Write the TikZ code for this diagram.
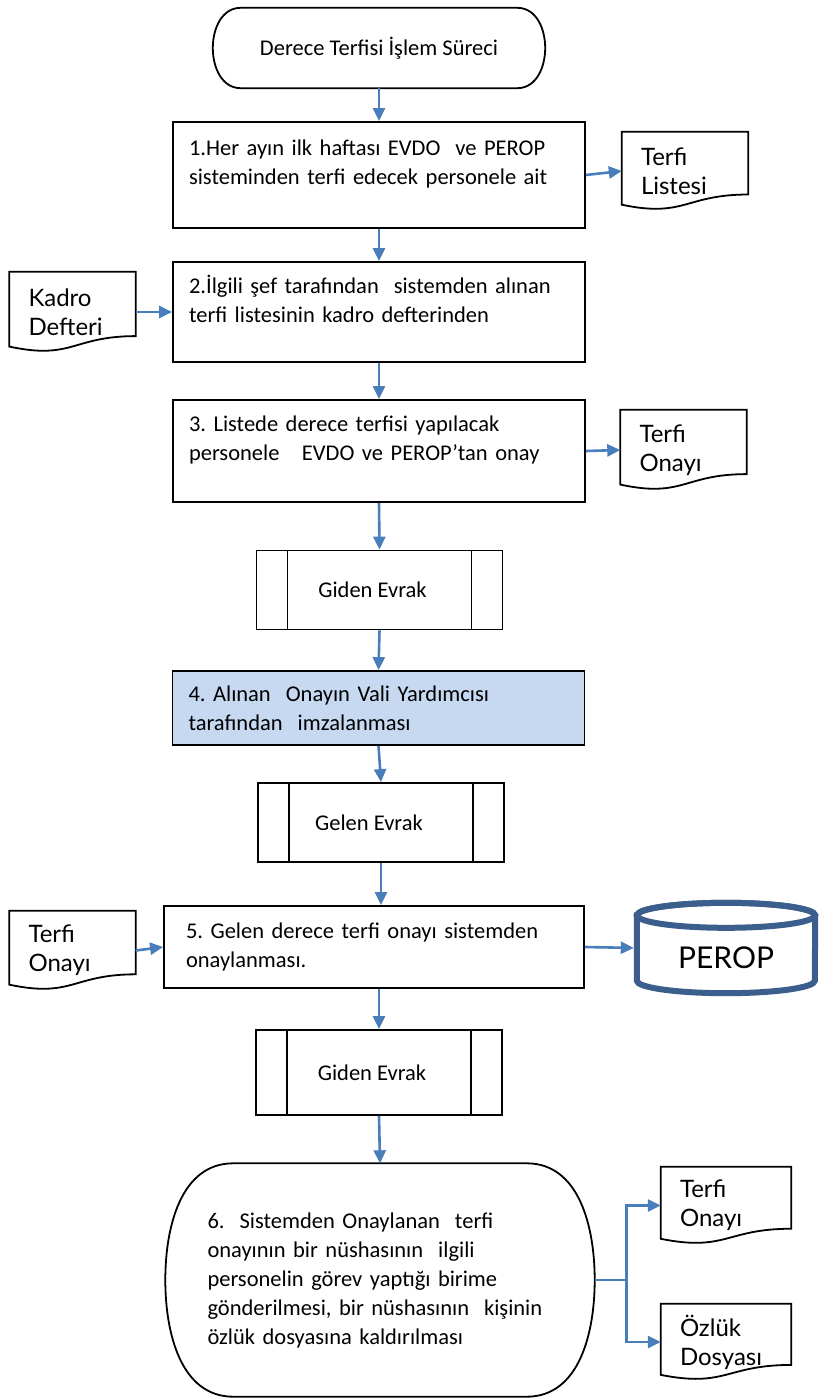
\documentclass[tikz,border=0pt]{standalone}
\usepackage{fontspec}
\setmainfont{Carlito}
\newfontfamily\docfont{Lato}
\usetikzlibrary{arrows.meta,calc}
\definecolor{flowblue}{HTML}{4A7EBB}
\definecolor{stepfill}{HTML}{C6D9F1}
\definecolor{dbblue}{HTML}{3B5E8C}

\begin{document}
\begin{tikzpicture}[x=1pt,y=1pt,
	txt/.style={font=\fontsize{22.5}{29}\selectfont\frenchspacing},
	box/.style={txt,draw,line width=1.8pt,text width=380pt,inner xsep=16pt,inner ysep=0pt,align=left},
	term/.style={txt,inner sep=0pt},
	sub/.style={txt,draw,line width=1.8pt,minimum width=246pt,minimum height=79pt,
		path picture={
			\draw[line width=1.8pt] ([xshift=31pt]path picture bounding box.north west) -- ([xshift=31pt]path picture bounding box.south west);
			\draw[line width=1.8pt] ([xshift=-31pt]path picture bounding box.north east) -- ([xshift=-31pt]path picture bounding box.south east);}},
	doc/.style={font=\docfont\fontsize{24}{29}\selectfont,align=left,text width=88pt,inner xsep=19pt,minimum height=78pt},
	flow/.style={draw=flowblue,line width=2.6pt,-{Triangle[length=13pt,width=12pt]}},
	link/.style={draw=flowblue,line width=2.6pt}
]
	\fill[white] (0,0) rectangle (819,-1399);

	% main column
	\node[term,minimum width=332pt,minimum height=80pt] (start) at (379,-48) {Derece Terfisi İşlem Süreci};
	\node[box,minimum height=106pt,text depth=55pt] (b1) at (379,-175) {1.Her ayın ilk haftası EVDO\ \ ve PEROP\\sisteminden terfi edecek personele ait};
	\node[box,minimum height=100pt,text depth=55pt] (b2) at (379,-312) {2.İlgili şef tarafından\ \ sistemden alınan\\terfi listesinin kadro defterinden};
	\node[box,minimum height=102pt,text depth=55pt] (b3) at (379,-451) {3. Listede derece terfisi yapılacak\\personele\ \ \ EVDO ve PEROP’tan onay};
	\node[sub] (gid1) at (379.5,-590) {\hspace*{-14pt}Giden Evrak};
	\node[box,fill=stepfill,minimum height=74pt] (b4) at (378.5,-708) {4. Alınan\ \ Onayın Vali Yardımcısı\\tarafından\ \ imzalanması};
	\node[sub] (gel) at (381,-822.5) {\hspace*{-24pt}Gelen Evrak};
	\node[box,text width=376pt,inner xsep=22pt,minimum height=82pt] (b5) at (374,-947) {5. Gelen derece terfi onayı sistemden\\onaylanması.};
	\node[sub,minimum height=85pt] (gid2) at (379,-1072.5) {\hspace*{-14pt}Giden Evrak};
	\node[term,align=left,text width=345pt,minimum width=429pt,minimum height=233pt] (b6) at (380,-1280)
		{6.\ \ Sistemden Onaylanan\ \ terfi\\onayının bir nüshasının\ \ ilgili\\personelin görev yaptığı birime\\gönderilmesi, bir nüshasının\ \ kişinin\\özlük dosyasına kaldırılması};
	\foreach \n/\bulge in {start/28,b6/68} {
		\draw[line width=1.8pt] ([xshift=\bulge pt]\n.north west) -- ([xshift=-\bulge pt]\n.north east)
			to[out=0,in=90] (\n.east) to[out=-90,in=0] ([xshift=-\bulge pt]\n.south east)
			-- ([xshift=\bulge pt]\n.south west) to[out=180,in=-90] (\n.west) to[out=90,in=180] cycle;
	}

	% documents
	\node[doc] (lst) at (685,-171) {Terfi\\Listesi};
	\node[doc,minimum height=80pt] (kdr) at (72.5,-312) {Kadro\\Defteri};
	\node[doc,minimum height=80pt] (ton1) at (683.5,-450) {Terfi\\Onayı};
	\node[doc,minimum height=79pt] (ton2) at (72.5,-950.5) {Terfi\\Onayı};
	\node[doc,text width=92pt,minimum height=77pt] (ton3) at (726,-1205.5) {Terfi\\Onayı};
	\node[doc,text width=92pt,minimum height=76pt] (ozl) at (726,-1342) {Özlük\\Dosyası};
	\foreach \d in {lst,kdr,ton1,ton2,ton3,ozl} {
		\draw[line width=1.8pt] (\d.north west) -- (\d.north east) -- ($(\d.north east)!0.8!(\d.south east)$)
			.. controls ($(\d.north)!0.8!(\d.south)$) and ($(\d.north)!1.1!(\d.south)$) .. ($(\d.north west)!0.93!(\d.south west)$) -- cycle;
	}

	% database
	\node[font=\docfont\fontsize{30}{36}\selectfont,minimum width=178pt,minimum height=90pt,inner sep=0pt] (perop) at (726,-948) {\raisebox{-20.5pt}[0pt][0pt]{PEROP}};
	\draw[dbblue,line width=6pt] ([yshift=-12.5pt]perop.north west) -- ([yshift=12.5pt]perop.south west)
		arc[start angle=180,end angle=360,x radius=89pt,y radius=12.5pt] -- ([yshift=-12.5pt]perop.north east)
		arc[start angle=0,end angle=180,x radius=89pt,y radius=12.5pt] -- cycle;
	\draw[dbblue,line width=6pt] ([yshift=-12.5pt]perop.north) ellipse[x radius=89pt,y radius=12.5pt];

	% connectors
	\draw[flow] (start.south) -- (b1.north);
	\draw[flow] (b1.south) -- (b2.north);
	\draw[flow] (b2.south) -- (b3.north);
	\draw[flow] (b3.south) -- (gid1.north);
	\draw[flow] (gid1.south) -- (b4.north);
	\draw[flow] (b4.south) -- (gel.north);
	\draw[flow] (gel.south) -- (gel.south |- b5.north);
	\draw[flow] (gid2.north |- b5.south) -- (gid2.north);
	\draw[flow] (gid2.south) -- (b6.north);
	\draw[flow] (b1.east) -- (lst.west);
	\draw[flow] (kdr.east) -- (b2.west);
	\draw[flow] (b3.east) -- (ton1.west);
	\draw[flow] (ton2.east) -- (b5.west);
	\draw[flow,shorten >=3pt] (b5.east) -- (perop.west);
	\draw[link] (b6.east) -- ++(32,0) coordinate (fork);
	\draw[flow] (fork) |- (ton3.west);
	\draw[flow] (fork) |- (ozl.west);
\end{tikzpicture}
\end{document}
